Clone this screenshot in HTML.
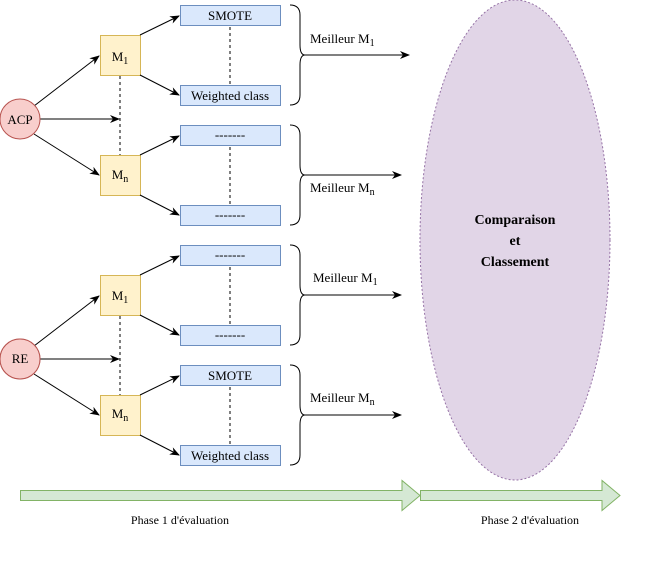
<!DOCTYPE html>
<html><head><meta charset="utf-8"><style>html,body{margin:0;padding:0;background:#fff}svg{display:block}</style></head>
<body>
<svg width="651" height="563" viewBox="0 0 651 563" xmlns="http://www.w3.org/2000/svg" font-family="'Liberation Serif', 'Times New Roman', serif" font-size="12">
<defs><marker id="a" markerWidth="10" markerHeight="8" refX="9" refY="4" orient="auto" markerUnits="userSpaceOnUse"><path d="M0,0 L10,4 L0,8 L3,4 Z" fill="#000"/></marker></defs>
<ellipse cx="515" cy="240" rx="95" ry="240" fill="#e1d5e7" stroke="#9673a6" stroke-dasharray="2,2"/>
<text x="515" y="224" text-anchor="middle" font-weight="bold" font-size="14">Comparaison</text>
<text x="515" y="245" text-anchor="middle" font-weight="bold" font-size="14">et</text>
<text x="515" y="266" text-anchor="middle" font-weight="bold" font-size="14">Classement</text>
<g id="grp">
<line x1="120" y1="76" x2="120" y2="155" stroke="#000" stroke-dasharray="3,3"/>
<line x1="34" y1="106" x2="99" y2="56" stroke="#000" marker-end="url(#a)"/>
<line x1="34" y1="134" x2="99" y2="175" stroke="#000" marker-end="url(#a)"/>
<line x1="40" y1="119" x2="119" y2="119" stroke="#000" marker-end="url(#a)"/>
<circle cx="20" cy="119" r="20" fill="#f8cecc" stroke="#b85450"/>
<rect x="100.5" y="35.5" width="40" height="40" fill="#fff2cc" stroke="#d6b656"/>
<rect x="100.5" y="155.5" width="40" height="40" fill="#fff2cc" stroke="#d6b656"/>
<line x1="140" y1="35" x2="179" y2="16" stroke="#000" marker-end="url(#a)"/>
<line x1="140" y1="75" x2="179" y2="95" stroke="#000" marker-end="url(#a)"/>
<line x1="140" y1="155" x2="179" y2="136" stroke="#000" marker-end="url(#a)"/>
<line x1="140" y1="195" x2="179" y2="215" stroke="#000" marker-end="url(#a)"/>
<line x1="230" y1="27" x2="230" y2="85" stroke="#000" stroke-dasharray="3,3"/>
<line x1="230" y1="147" x2="230" y2="205" stroke="#000" stroke-dasharray="3,3"/>
<rect x="180.5" y="5.5" width="100" height="20" fill="#dae8fc" stroke="#6c8ebf"/>
<rect x="180.5" y="85.5" width="100" height="20" fill="#dae8fc" stroke="#6c8ebf"/>
<rect x="180.5" y="125.5" width="100" height="20" fill="#dae8fc" stroke="#6c8ebf"/>
<rect x="180.5" y="205.5" width="100" height="20" fill="#dae8fc" stroke="#6c8ebf"/>
<path d="M290,5 Q300,5 300,15 L300,45 Q300,55 305,55 Q300,55 300,65 L300,95 Q300,105 290,105" fill="none" stroke="#000"/>
<path d="M290,125 Q300,125 300,135 L300,165 Q300,175 305,175 Q300,175 300,185 L300,215 Q300,225 290,225" fill="none" stroke="#000"/>
</g>
<use href="#grp" transform="translate(0,240)"/>
<circle cx="20" cy="359" r="20" fill="#f8cecc" stroke="#b85450"/>
<text x="20" y="124" text-anchor="middle" font-size="13">ACP</text>
<text x="120" y="61" text-anchor="middle" font-size="13">M<tspan dy="3" font-size="10">1</tspan></text>
<text x="120" y="179" text-anchor="middle" font-size="13">M<tspan dy="3" font-size="10">n</tspan></text>
<text x="230" y="20" text-anchor="middle" font-size="13">SMOTE</text>
<text x="230" y="100" text-anchor="middle" font-size="13">Weighted class</text>
<text x="230" y="139" text-anchor="middle" font-size="13">-------</text>
<text x="230" y="219" text-anchor="middle" font-size="13">-------</text>
<line x1="305" y1="55" x2="409" y2="55" stroke="#000" marker-end="url(#a)"/>
<line x1="305" y1="175" x2="401" y2="175" stroke="#000" marker-end="url(#a)"/>
<text x="310" y="43" font-size="13">Meilleur M<tspan dy="3" font-size="10">1</tspan></text>
<text x="310" y="192" font-size="13">Meilleur M<tspan dy="3" font-size="10">n</tspan></text>
<text x="20" y="363" text-anchor="middle" font-size="13">RE</text>
<text x="120" y="300" text-anchor="middle" font-size="13">M<tspan dy="3" font-size="10">1</tspan></text>
<text x="120" y="418" text-anchor="middle" font-size="13">M<tspan dy="3" font-size="10">n</tspan></text>
<text x="230" y="259" text-anchor="middle" font-size="13">-------</text>
<text x="230" y="339" text-anchor="middle" font-size="13">-------</text>
<text x="230" y="380" text-anchor="middle" font-size="13">SMOTE</text>
<text x="230" y="460" text-anchor="middle" font-size="13">Weighted class</text>
<line x1="305" y1="295" x2="401" y2="295" stroke="#000" marker-end="url(#a)"/>
<line x1="305" y1="415" x2="401" y2="415" stroke="#000" marker-end="url(#a)"/>
<text x="313" y="282" font-size="13">Meilleur M<tspan dy="3" font-size="10">1</tspan></text>
<text x="310" y="402" font-size="13">Meilleur M<tspan dy="3" font-size="10">n</tspan></text>
<path d="M20.5,490.5 L402,490.5 L402,480.5 L420,495.5 L402,510.5 L402,500.5 L20.5,500.5 Z" fill="#d5e8d4" stroke="#82b366"/>
<path d="M420.5,490.5 L602,490.5 L602,480.5 L620,495.5 L602,510.5 L602,500.5 L420.5,500.5 Z" fill="#d5e8d4" stroke="#82b366"/>
<text x="180" y="524" text-anchor="middle">Phase 1 d'évaluation</text>
<text x="530" y="524" text-anchor="middle">Phase 2 d'évaluation</text>
</svg>
</body></html>
